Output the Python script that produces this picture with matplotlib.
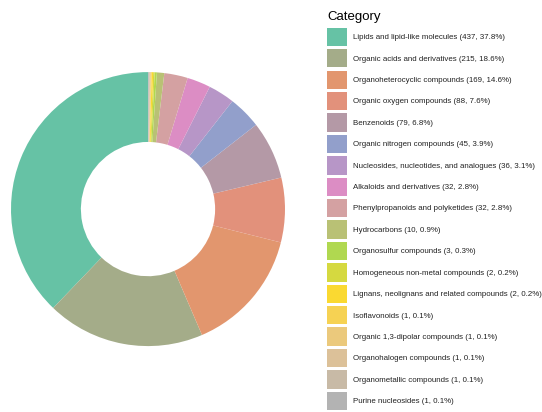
import numpy as np
import matplotlib.pyplot as plt
from matplotlib.colors import LinearSegmentedColormap

# class counts per chemical category
categories = ['Lipids and lipid-like molecules', 'Organic acids and derivatives',
              'Organoheterocyclic compounds', 'Organic oxygen compounds', 'Benzenoids',
              'Organic nitrogen compounds', 'Nucleosides, nucleotides, and analogues',
              'Alkaloids and derivatives', 'Phenylpropanoids and polyketides',
              'Hydrocarbons', 'Organosulfur compounds', 'Homogeneous non-metal compounds',
              'Lignans, neolignans and related compounds', 'Isoflavonoids',
              'Organic 1,3-dipolar compounds', 'Organohalogen compounds',
              'Organometallic compounds', 'Purine nucleosides']
counts = [437, 215, 169, 88, 79, 45, 36, 32, 32, 10, 3, 2, 2, 1, 1, 1, 1, 1]
pcts = [37.8, 18.6, 14.6, 7.6, 6.8, 3.9, 3.1, 2.8, 2.8, 0.9, 0.3, 0.2, 0.2, 0.1, 0.1, 0.1, 0.1, 0.1]

labels = [f'{c} ({n}, {p}%)' for c, n, p in zip(categories, counts, pcts)]

# stretch the Set2 palette over all categories
set2 = ['#66c2a5', '#fc8d62', '#8da0cb', '#e78ac3', '#a6d854', '#ffd92f', '#e5c494', '#b3b3b3']
cmap = LinearSegmentedColormap.from_list('set2_long', set2)
colors = [cmap(i / (len(counts) - 1)) for i in range(len(counts))]

plt.rcParams['font.family'] = ['Liberation Sans', 'DejaVu Sans']

fig = plt.figure(figsize=(5.42, 4.12), dpi=100)
ax = fig.add_axes([0.0203, 0.160, 0.5055, 0.665])
wedges, _ = ax.pie(counts, colors=colors, startangle=90, counterclock=True,
                   radius=1.0, wedgeprops=dict(width=0.51, linewidth=0))
ax.set_xlim(-1, 1)
ax.set_ylim(-1, 1)
ax.set_aspect('equal')

leg = fig.legend(wedges, labels, loc='upper left', bbox_to_anchor=(327 / 542, 1 - 11 / 412),
                 frameon=False, fontsize=5.7, title='Category', title_fontsize=9.5,
                 alignment='left', handlelength=2.5, handleheight=3.2,
                 handletextpad=0.75, labelspacing=0.38, borderpad=0, borderaxespad=0)
leg._legend_box.sep += 1.2  # a bit more room under the title
for t in leg.get_texts():
    t.set_color('#222222')

fig.savefig('out.png', dpi=100)
